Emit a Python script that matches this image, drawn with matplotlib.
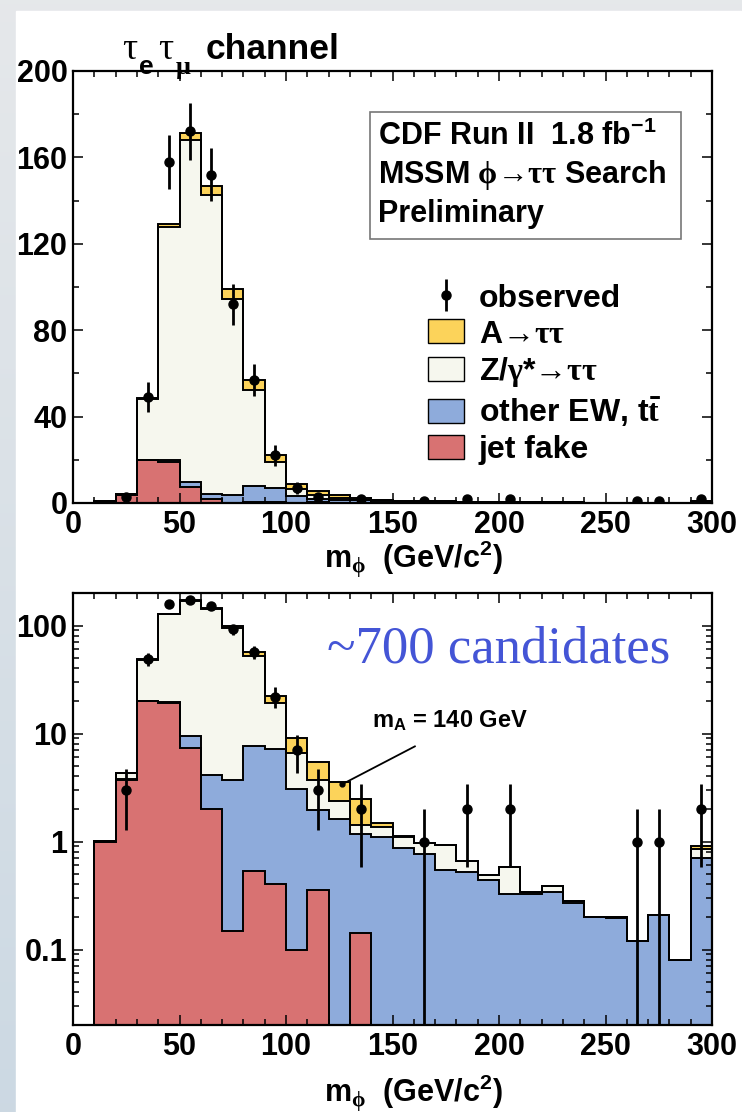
import numpy as np
import matplotlib
matplotlib.use("Agg")
import matplotlib.pyplot as plt
from matplotlib.patches import Patch, Rectangle
from matplotlib.ticker import MultipleLocator, LogLocator, FuncFormatter, NullFormatter

# ---- data: 10 GeV bins of the reconstructed mass m_phi ----
bin_edges = np.arange(0, 301, 10)

jet_fake = [0, 1.0, 3.7, 19.8, 19.2, 7.3, 2.0, 0.147, 0.535, 0.40,
            0.10, 0.356, 0, 0.143, 0, 0, 0, 0, 0, 0,
            0, 0, 0, 0, 0, 0, 0, 0, 0, 0]
other_ew = [0, 0, 0.12, 0.3, 0.5, 2.2, 2.15, 3.57, 7.2, 6.77,
            2.95, 1.61, 1.61, 1.03, 1.1, 0.88, 0.77, 0.55, 0.52, 0.44,
            0.33, 0.33, 0.34, 0.27, 0.20, 0.195, 0.12, 0.21, 0.08, 0.70]
z_tautau = [0, 0.02, 0.5, 27.9, 108.3, 158.5, 138.4, 90.8, 44.8, 11.9,
            3.55, 1.75, 0.74, 0.26, 0.26, 0.22, 0.195, 0.38, 0.14, 0.05,
            0.25, 0.01, 0.05, 0.01, 0, 0.005, 0, 0, 0, 0.15]
a_tautau = [0, 0, 0, 0.5, 1.0, 3.4, 4.2, 4.6, 4.3, 3.3,
            2.4, 1.7, 1.2, 1.04, 0.12, 0.02, 0, 0, 0, 0,
            0, 0, 0, 0, 0, 0, 0, 0, 0, 0.05]
observed = [0, 0, 3, 49, 158, 172, 152, 92, 57, 22,
            7, 3, 0, 2, 0, 0, 1, 0, 2, 0,
            2, 0, 0, 0, 0, 0, 1, 1, 0, 2]

labels = ["observed", r"A$\mathrm{→\tau\tau}$",
          r"Z/$\mathrm{\gamma}$*$\mathrm{→\tau\tau}$",
          r"other EW, t$\bar{\mathrm{t}}$", "jet fake"]

# ---- style ----
plt.rcParams["font.family"] = ["Liberation Sans", "DejaVu Sans"]
plt.rcParams["font.weight"] = "bold"
plt.rcParams["mathtext.fontset"] = "custom"
plt.rcParams["mathtext.rm"] = "Liberation Serif"
plt.rcParams["mathtext.bf"] = "Liberation Sans:bold"
plt.rcParams["mathtext.sf"] = "Liberation Sans:bold"
plt.rcParams["mathtext.it"] = "Liberation Sans:bold"
plt.rcParams["mathtext.default"] = "bf"

C_A = "#FCD35A"
C_Z = "#F6F7EE"
C_EW = "#8EABDB"
C_FAKE = "#D87272"
TXT = 22
LEG = 23

W, H = 742, 1112
fig = plt.figure(figsize=(W / 100, H / 100), dpi=100)

# slide background with a white panel
bg = fig.add_axes([0, 0, 1, 1], zorder=-10)
grad = np.linspace(0, 1, 256)[:, None]
top_col = np.array([0.90, 0.91, 0.92])
bot_col = np.array([0.80, 0.85, 0.89])
img = top_col[None, None, :] * (1 - grad[..., None]) + bot_col[None, None, :] * grad[..., None]
img = np.repeat(img, 2, axis=1)
bg.imshow(img, extent=[0, 1, 0, 1], aspect="auto", origin="upper")
bg.add_patch(Rectangle((16 / W, 0), (741 - 16) / W, (H - 11) / H, color="white"))
bg.set_xlim(0, 1)
bg.set_ylim(0, 1)
bg.axis("off")

ax_lin = fig.add_axes([73 / W, 1 - 503 / H, 639 / W, 432 / H])
ax_log = fig.add_axes([73 / W, 1 - 1025 / H, 639 / W, 432 / H])

obs = np.asarray(observed, dtype=float)
centers = 0.5 * (bin_edges[:-1] + bin_edges[1:])
has = obs > 0

layers = [np.asarray(jet_fake)]
for comp in (other_ew, z_tautau, a_tautau):
    layers.append(layers[-1] + np.asarray(comp))
colors = [C_FAKE, C_EW, C_Z, C_A]


def draw_stack(ax, base):
    for cum, col in zip(layers[::-1], colors[::-1]):
        ax.stairs(cum, bin_edges, baseline=base, fill=True, facecolor=col,
                  edgecolor="none", zorder=1)
    for cum in layers[::-1]:
        ax.stairs(cum, bin_edges, baseline=base, fill=False, color="black",
                  lw=1.4, zorder=2)
    eb = ax.errorbar(centers[has], obs[has], yerr=np.sqrt(obs[has]), fmt="o",
                     color="black", ms=6.5, elinewidth=2.0, capsize=0, zorder=5,
                     clip_on=True)
    return eb


def style_axes(ax):
    for sp in ax.spines.values():
        sp.set_linewidth(1.6)
    ax.set_xlim(0, 300)
    ax.xaxis.set_major_locator(MultipleLocator(50))
    ax.xaxis.set_minor_locator(MultipleLocator(10))
    ax.tick_params(which="both", direction="in", top=True, right=True,
                   width=1.1, labelsize=TXT, colors="black")
    ax.tick_params(which="major", length=7)
    ax.tick_params(which="minor", length=4)
    ax.tick_params(axis="x", which="major", pad=5)
    ax.tick_params(axis="y", which="major", pad=4)
    for lab in ax.get_xticklabels() + ax.get_yticklabels():
        lab.set_fontweight("bold")


# ---- linear panel ----
eb = draw_stack(ax_lin, 0)
style_axes(ax_lin)
ax_lin.set_ylim(0, 200)
ax_lin.yaxis.set_major_locator(MultipleLocator(40))
ax_lin.yaxis.set_minor_locator(MultipleLocator(20))

ax_lin.add_patch(Rectangle((0.465, 0.611), 0.486, 0.294, transform=ax_lin.transAxes,
                           facecolor="white", edgecolor="#777777", lw=1.2, zorder=6))
box_lines = [r"CDF Run II  1.8 fb$^{-1}$",
             r"MSSM $\mathrm{\phi→\tau\tau}$ Search",
             "Preliminary"]
for txt, yb in zip(box_lines, (0.829, 0.741, 0.650)):
    ax_lin.text(0.477, yb, txt, transform=ax_lin.transAxes, fontsize=TXT,
                fontweight="bold", va="baseline", ha="left", zorder=7)

handles = [eb,
           Patch(facecolor=C_A, edgecolor="black", lw=1.0),
           Patch(facecolor=C_Z, edgecolor="black", lw=1.0),
           Patch(facecolor=C_EW, edgecolor="black", lw=1.0),
           Patch(facecolor=C_FAKE, edgecolor="black", lw=1.0)]
ax_lin.legend(handles, labels, loc="upper left", bbox_to_anchor=(0.556, 0.508),
              frameon=False, handlelength=1.13, handleheight=0.78,
              handletextpad=0.45, labelspacing=0.18, borderpad=0, borderaxespad=0,
              prop={"weight": "bold", "size": LEG})

# ---- log panel ----
draw_stack(ax_log, 1e-3)
style_axes(ax_log)
ax_log.set_yscale("log")
ax_log.set_ylim(0.02, 200)
ax_log.yaxis.set_major_locator(LogLocator(base=10, numticks=10))
ax_log.yaxis.set_minor_locator(LogLocator(base=10, subs=np.arange(2, 10), numticks=10))
ax_log.yaxis.set_major_formatter(FuncFormatter(lambda v, p: f"{v:g}"))
ax_log.yaxis.set_minor_formatter(NullFormatter())
ax_log.tick_params(which="major", length=7)
ax_log.tick_params(which="minor", length=4)
for lab in ax_log.get_yticklabels():
    lab.set_fontweight("bold")

ax_log.text(0.397, 0.840, "~700 candidates", transform=ax_log.transAxes,
            family="Liberation Serif", fontweight="normal", fontsize=38,
            color="#4455D6", va="baseline", ha="left", zorder=7)

# annotation for the signal hypothesis
ax_log.plot([126.5, 160.5], [3.4, 7.6], color="black", lw=1.3, zorder=6)
ax_log.plot([126.5], [3.4], "o", color="black", ms=3.5, zorder=6)
ax_log.text(140.4, 11.4, r"m$_{\mathbf{A}}$ = 140 GeV", fontsize=17,
            fontweight="bold", va="baseline", ha="left", zorder=7)

# channel title, built from pieces so the subscripts stay large
def px_text(x, y, s, **kw):
    fig.text(x / W, 1 - y / H, s, va="baseline", ha="left", **kw)

px_text(122, 59, "τ", family="Liberation Serif", fontweight="normal", fontsize=27)
px_text(139, 74, "e", fontsize=19, fontweight="bold")
px_text(158, 59, "τ", family="Liberation Serif", fontweight="normal", fontsize=27)
px_text(176, 74, "μ", family="Liberation Serif", fontweight="bold", fontsize=19)
px_text(206, 59, "channel", fontsize=25.5, fontweight="bold")

xlab = r"m$_{\mathrm{\phi}}$  (GeV/c$^{2}$)"
fig.text(413 / W, 1 - 568 / H, xlab, fontsize=TXT, fontweight="bold",
         va="baseline", ha="center")
fig.text(413 / W, 1 - 1102 / H, xlab, fontsize=TXT, fontweight="bold",
         va="baseline", ha="center")

fig.savefig("out.png", dpi=100)
